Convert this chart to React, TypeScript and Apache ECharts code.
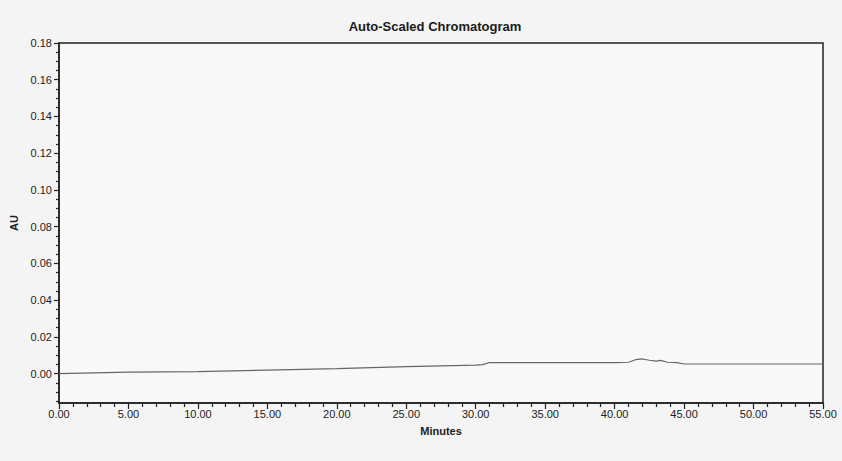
import React, { useEffect, useRef } from "react";
import * as echarts from "echarts";

const minutes = [0, 5, 10, 15, 20, 25, 30, 30.5, 31, 35, 40, 41, 41.5, 42, 42.5, 43, 43.3, 43.8, 44.5, 45, 50, 55];
const absorbance = [0.0, 0.0008, 0.0011, 0.0019, 0.0027, 0.0038, 0.0046, 0.0049, 0.006, 0.006, 0.006, 0.0062, 0.0076, 0.008, 0.0073, 0.0068, 0.0072, 0.0062, 0.006, 0.0052, 0.0052, 0.0052];
const yMajorTicks = [0, 0.02, 0.04, 0.06, 0.08, 0.1, 0.12, 0.14, 0.16, 0.18];
const yMinorTicks = [-0.015, -0.01, -0.005, 0.005, 0.01, 0.015, 0.025, 0.03, 0.035, 0.045, 0.05, 0.055, 0.065, 0.07, 0.075, 0.085, 0.09, 0.095, 0.105, 0.11, 0.115, 0.125, 0.13, 0.135, 0.145, 0.15, 0.155, 0.165, 0.17, 0.175];

const FONT = '"Liberation Sans Narrow", "Arial Narrow", "Liberation Sans", Arial, sans-serif';

export default function App() {
  const ref = useRef<HTMLDivElement>(null);
  useEffect(() => {
    if (!ref.current) return;
    const chart = echarts.init(ref.current, undefined, { renderer: "svg" });
    chart.setOption({
      animation: false,
      backgroundColor: "#f4f4f4",
      title: {
        text: "Auto-Scaled Chromatogram",
        left: 430,
        top: 15,
        textAlign: "center",
        textStyle: { fontFamily: FONT, fontSize: 13, fontWeight: "bold", color: "#1a1a1a" },
      },
      grid: {
        left: 57,
        right: 19,
        top: 43,
        bottom: 58,
        show: true,
        backgroundColor: "#f8f8f8",
        borderColor: "#222",
        borderWidth: 1.5,
      },
      xAxis: {
        type: "value",
        min: 0,
        max: 55,
        interval: 5,
        name: "Minutes",
        nameLocation: "middle",
        nameGap: 22,
        nameTextStyle: { fontFamily: FONT, fontSize: 11, fontWeight: "bold", color: "#222" },
        axisLine: { onZero: false, lineStyle: { color: "#222", width: 1.5 } },
        axisTick: { show: true, length: 6, lineStyle: { color: "#222", width: 1.2 } },
        minorTick: { show: true, splitNumber: 5, length: 4, lineStyle: { color: "#222", width: 1.2 } },
        axisLabel: {
          margin: 5,
          fontFamily: FONT,
          fontSize: 11,
          color: "#222",
          formatter: (v: number) => v.toFixed(2),
        },
        splitLine: { show: false },
      },
      yAxis: [
        {
          type: "value",
          min: -0.016,
          max: 0.18,
          name: "AU",
          nameLocation: "middle",
          nameGap: 40,
          nameRotate: 90,
          nameTextStyle: { fontFamily: FONT, fontSize: 11, fontWeight: "bold", color: "#222" },
          axisLine: { show: true, lineStyle: { color: "#222", width: 1.5 } },
          axisTick: { show: true, length: 5, customValues: yMajorTicks, lineStyle: { color: "#222", width: 1.2 } },
          axisLabel: {
            margin: 7,
            fontFamily: FONT,
            fontSize: 11,
            color: "#222",
            customValues: yMajorTicks,
            formatter: (v: number) => v.toFixed(2),
          },
          splitLine: { show: false },
        },
        {
          type: "value",
          min: -0.016,
          max: 0.18,
          position: "left",
          axisLine: { show: false },
          axisTick: { show: true, length: 3, customValues: yMinorTicks, lineStyle: { color: "#222", width: 1.2 } },
          axisLabel: { show: false },
          splitLine: { show: false },
        },
      ],
      series: [
        {
          type: "line",
          yAxisIndex: 0,
          showSymbol: false,
          data: minutes.map((m, i) => [m, absorbance[i]]),
          lineStyle: { color: "#666", width: 1.1 },
          itemStyle: { color: "#666" },
        },
      ],
    });
    return () => chart.dispose();
  }, []);
  return <div ref={ref} style={{ position: "absolute", left: 0, top: 0, width: 842, height: 461 }} />;
}
